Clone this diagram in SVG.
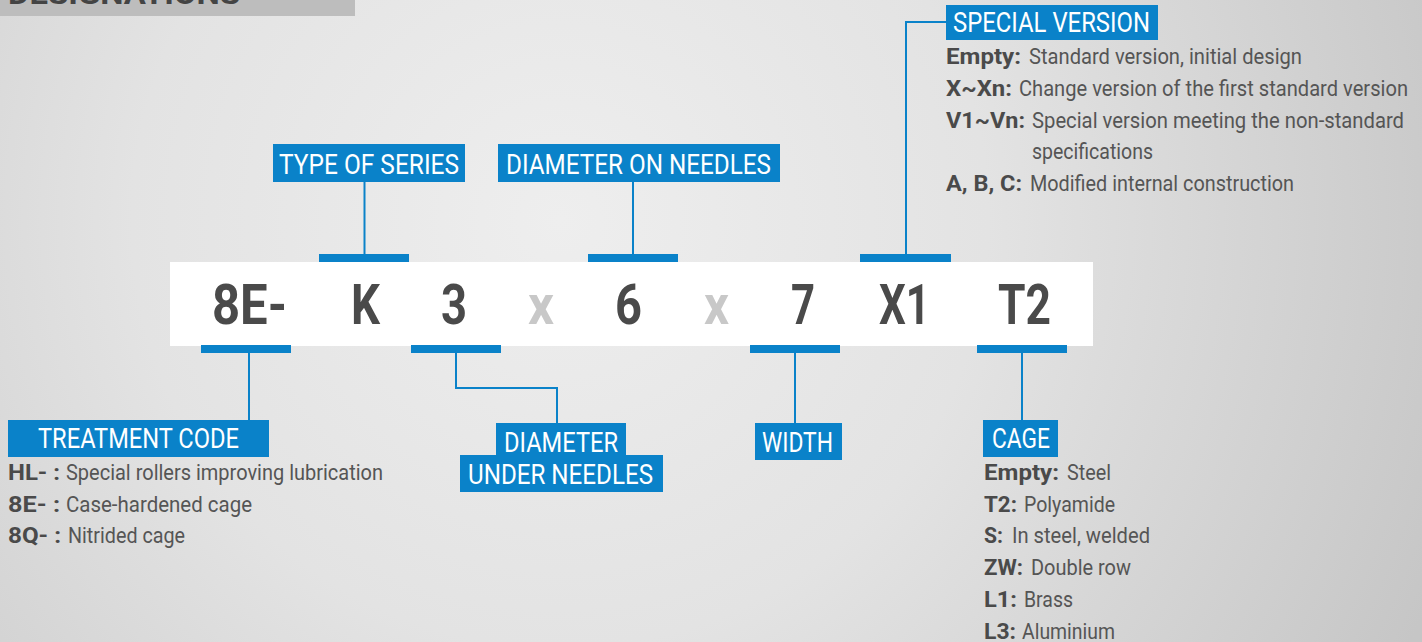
<svg xmlns="http://www.w3.org/2000/svg" width="1422" height="642" viewBox="0 0 1422 642">
<defs>
<radialGradient id="bg" gradientUnits="userSpaceOnUse" cx="560" cy="220" r="950">
<stop offset="0" stop-color="#eeeeee"/>
<stop offset="0.45" stop-color="#e3e3e3"/>
<stop offset="1" stop-color="#c6c6c6"/>
</radialGradient>
<style>
.lab{fill:#0a82c9}
.lt{font-family:Roboto,"Liberation Sans",sans-serif;font-size:27px;fill:#ffffff}
.code{font-family:Roboto,"Liberation Sans",sans-serif;font-size:56px;font-weight:bold;fill:#4a4a4a}
.cx{fill:#c8c8c8}
.b{font-family:Roboto,"Liberation Sans",sans-serif;font-size:22.5px;font-weight:bold;fill:#4a4a4a}
.n{font-family:Roboto,"Liberation Sans",sans-serif;font-size:22.5px;fill:#555555}
.ln{stroke:#0a82c9;stroke-width:2;fill:none}
.bar{fill:#0a82c9}
</style>
</defs>
<rect width="1422" height="642" fill="url(#bg)"/>
<g id="header">
<rect x="0" y="0" width="355" height="16" fill="#bdbdbd"/>
<text x="8" y="4" textLength="232" lengthAdjust="spacingAndGlyphs" style="font-family:Roboto,'Liberation Sans',sans-serif;font-size:30px;font-weight:bold;fill:#444">DESIGNATIONS</text>
</g>
<g id="code-bar">
<rect x="170" y="262" width="923" height="84" fill="#ffffff"/>
<text class="code" x="212" y="324" textLength="75" lengthAdjust="spacingAndGlyphs">8E-</text>
<text class="code" x="351" y="324" textLength="29" lengthAdjust="spacingAndGlyphs">K</text>
<text class="code" x="441" y="324" textLength="26" lengthAdjust="spacingAndGlyphs">3</text>
<text class="code cx" x="528" y="324" textLength="26" lengthAdjust="spacingAndGlyphs">x</text>
<text class="code" x="615" y="324" textLength="27" lengthAdjust="spacingAndGlyphs">6</text>
<text class="code cx" x="704" y="324" textLength="25" lengthAdjust="spacingAndGlyphs">x</text>
<text class="code" x="791" y="324" textLength="24" lengthAdjust="spacingAndGlyphs">7</text>
<text class="code" x="879" y="324" textLength="51" lengthAdjust="spacingAndGlyphs">X1</text>
<text class="code" x="998" y="324" textLength="53" lengthAdjust="spacingAndGlyphs">T2</text>
</g>
<g id="connectors">
<rect class="bar" x="319" y="254" width="90" height="8"/>
<rect class="bar" x="588" y="254" width="90" height="8"/>
<rect class="bar" x="860" y="254" width="91" height="8"/>
<rect class="bar" x="201" y="345" width="90" height="8"/>
<rect class="bar" x="411" y="345" width="90" height="8"/>
<rect class="bar" x="750" y="345" width="90" height="8"/>
<rect class="bar" x="977" y="345" width="90" height="8"/>
<path class="ln" d="M364.5 182V254"/>
<path class="ln" d="M633 182V254"/>
<path class="ln" d="M946 22H906V254"/>
<path class="ln" d="M249 353V420"/>
<path class="ln" d="M456 353V388H557V423"/>
<path class="ln" d="M795 353V423"/>
<path class="ln" d="M1022 353V420"/>
</g>
<g id="type-of-series">
<rect class="lab" x="273" y="144" width="192" height="38"/>
<text class="lt" x="279" y="174" textLength="180" lengthAdjust="spacingAndGlyphs">TYPE OF SERIES</text>
</g>
<g id="diameter-on-needles">
<rect class="lab" x="498" y="144" width="282" height="38"/>
<text class="lt" x="506" y="174" textLength="265" lengthAdjust="spacingAndGlyphs">DIAMETER ON NEEDLES</text>
</g>
<g id="special-version">
<rect class="lab" x="946" y="5" width="212" height="35"/>
<text class="lt" x="953" y="32" textLength="197" lengthAdjust="spacingAndGlyphs">SPECIAL VERSION</text>
<text class="b" x="946" y="64" textLength="75" lengthAdjust="spacingAndGlyphs">Empty:</text>
<text class="n" x="1029" y="64" textLength="273" lengthAdjust="spacingAndGlyphs">Standard version, initial design</text>
<text class="b" x="946" y="96" textLength="66" lengthAdjust="spacingAndGlyphs">X~Xn:</text>
<text class="n" x="1019" y="96" textLength="389" lengthAdjust="spacingAndGlyphs">Change version of the first standard version</text>
<text class="b" x="946" y="128" textLength="79" lengthAdjust="spacingAndGlyphs">V1~Vn:</text>
<text class="n" x="1032" y="128" textLength="372" lengthAdjust="spacingAndGlyphs">Special version meeting the non-standard</text>
<text class="n" x="1032" y="159" textLength="121" lengthAdjust="spacingAndGlyphs">specifications</text>
<text class="b" x="946" y="191" textLength="76" lengthAdjust="spacingAndGlyphs">A, B, C:</text>
<text class="n" x="1030" y="191" textLength="264" lengthAdjust="spacingAndGlyphs">Modified internal construction</text>
</g>
<g id="treatment-code">
<rect class="lab" x="8" y="420" width="261" height="37"/>
<text class="lt" x="38" y="448" textLength="201" lengthAdjust="spacingAndGlyphs">TREATMENT CODE</text>
<text class="b" x="8" y="480" textLength="52" lengthAdjust="spacingAndGlyphs">HL- :</text>
<text class="n" x="66" y="480" textLength="317" lengthAdjust="spacingAndGlyphs">Special rollers improving lubrication</text>
<text class="b" x="8" y="512" textLength="52" lengthAdjust="spacingAndGlyphs">8E- :</text>
<text class="n" x="66" y="512" textLength="186" lengthAdjust="spacingAndGlyphs">Case-hardened cage</text>
<text class="b" x="8" y="543" textLength="53" lengthAdjust="spacingAndGlyphs">8Q- :</text>
<text class="n" x="68" y="543" textLength="117" lengthAdjust="spacingAndGlyphs">Nitrided cage</text>
</g>
<g id="diameter-under-needles">
<rect class="lab" x="496" y="423" width="130" height="33"/>
<rect class="lab" x="460" y="455" width="203" height="37"/>
<text class="lt" x="504" y="452" textLength="114" lengthAdjust="spacingAndGlyphs">DIAMETER</text>
<text class="lt" x="468" y="484" textLength="185" lengthAdjust="spacingAndGlyphs">UNDER NEEDLES</text>
</g>
<g id="width">
<rect class="lab" x="755" y="423" width="87" height="37"/>
<text class="lt" x="762" y="452" textLength="71" lengthAdjust="spacingAndGlyphs">WIDTH</text>
</g>
<g id="cage">
<rect class="lab" x="983" y="420" width="75" height="37"/>
<text class="lt" x="992" y="448" textLength="58" lengthAdjust="spacingAndGlyphs">CAGE</text>
<text class="b" x="984" y="480" textLength="75" lengthAdjust="spacingAndGlyphs">Empty:</text>
<text class="n" x="1067" y="480" textLength="44" lengthAdjust="spacingAndGlyphs">Steel</text>
<text class="b" x="984" y="512" textLength="33" lengthAdjust="spacingAndGlyphs">T2:</text>
<text class="n" x="1024" y="512" textLength="91" lengthAdjust="spacingAndGlyphs">Polyamide</text>
<text class="b" x="984" y="543" textLength="19" lengthAdjust="spacingAndGlyphs">S:</text>
<text class="n" x="1012" y="543" textLength="138" lengthAdjust="spacingAndGlyphs">In steel, welded</text>
<text class="b" x="984" y="575" textLength="39" lengthAdjust="spacingAndGlyphs">ZW:</text>
<text class="n" x="1031" y="575" textLength="100" lengthAdjust="spacingAndGlyphs">Double row</text>
<text class="b" x="984" y="607" textLength="33" lengthAdjust="spacingAndGlyphs">L1:</text>
<text class="n" x="1024" y="607" textLength="49" lengthAdjust="spacingAndGlyphs">Brass</text>
<text class="b" x="984" y="639" textLength="32" lengthAdjust="spacingAndGlyphs">L3:</text>
<text class="n" x="1022" y="639" textLength="93" lengthAdjust="spacingAndGlyphs">Aluminium</text>
</g>
</svg>
